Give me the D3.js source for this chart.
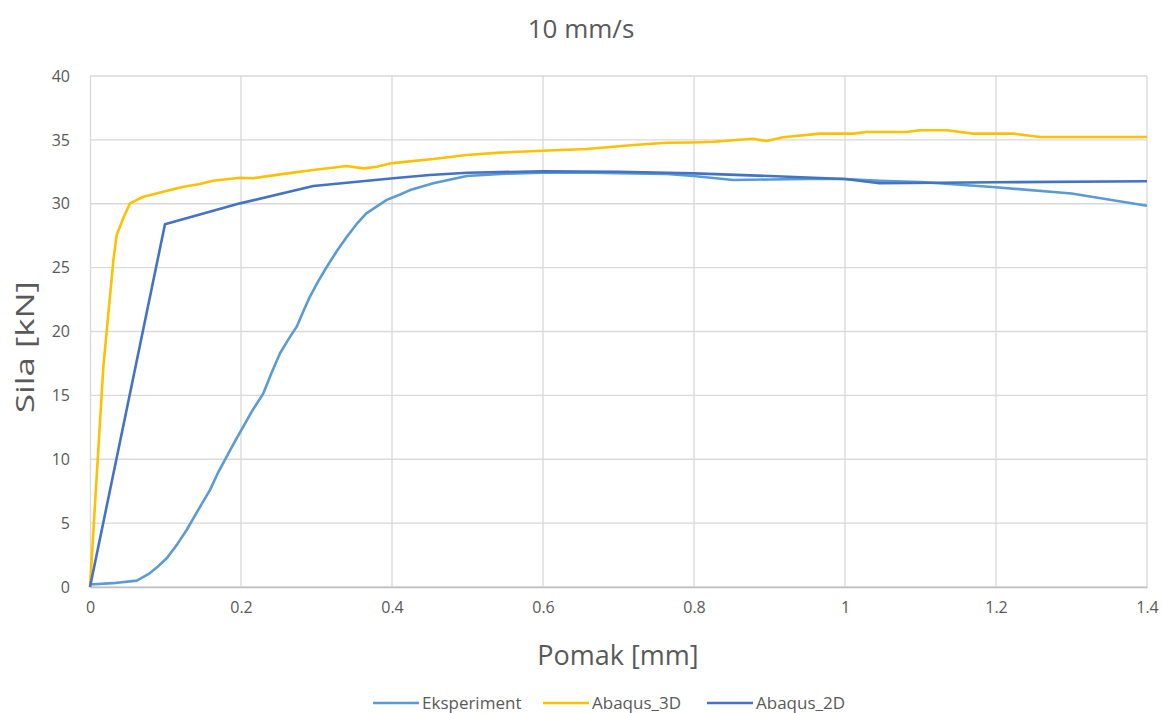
<!DOCTYPE html>
<html>
<head>
<meta charset="utf-8">
<script src="https://cdn.jsdelivr.net/npm/d3@7"></script>
<style>
  body { margin: 0; background: #fff; }
  svg text { font-family: "Open Sans", "Noto Sans", sans-serif; fill: #595959; }
</style>
</head>
<body>
<svg id="chart" width="1162" height="713"></svg>
<script>
// pomak [mm] / sila [kN]
const eksX = [0, 0.03, 0.062, 0.079, 0.09, 0.1016, 0.115, 0.128, 0.143, 0.159, 0.17, 0.181, 0.192, 0.203, 0.216, 0.2296, 0.24, 0.2517, 0.263, 0.274, 0.282, 0.291, 0.302, 0.3135, 0.327, 0.340, 0.353, 0.366, 0.38, 0.393, 0.41, 0.424, 0.4547, 0.499, 0.55, 0.599, 0.65, 0.70, 0.764, 0.799, 0.852, 0.9, 0.95, 1.0, 1.046, 1.1, 1.2, 1.3, 1.4];
const eksY = [0.2, 0.3, 0.5, 1.07, 1.6, 2.25, 3.3, 4.46, 6.0, 7.6, 9.0, 10.2, 11.4, 12.55, 13.9, 15.16, 16.7, 18.3, 19.4, 20.4, 21.5, 22.7, 23.9, 25.05, 26.3, 27.4, 28.4, 29.25, 29.8, 30.3, 30.7, 31.07, 31.6, 32.17, 32.35, 32.43, 32.45, 32.4, 32.33, 32.17, 31.86, 31.9, 31.95, 31.94, 31.8, 31.7, 31.29, 30.8, 29.85];

const a3dX = [0, 0.0177, 0.031, 0.0353, 0.045, 0.053, 0.0706, 0.097, 0.1236, 0.1457, 0.163, 0.1987, 0.2163, 0.2517, 0.2958, 0.340, 0.362, 0.38, 0.397, 0.4106, 0.4547, 0.499, 0.543, 0.599, 0.658, 0.72, 0.764, 0.799, 0.826, 0.878, 0.896, 0.918, 0.967, 1.011, 1.029, 1.081, 1.099, 1.135, 1.17, 1.223, 1.258, 1.4];
const a3dY = [0, 17.25, 25.6, 27.55, 29.0, 30.03, 30.55, 30.94, 31.33, 31.55, 31.8, 32.04, 32.0, 32.3, 32.64, 32.95, 32.77, 32.9, 33.15, 33.24, 33.5, 33.82, 34.0, 34.15, 34.29, 34.6, 34.78, 34.8, 34.85, 35.09, 34.91, 35.2, 35.49, 35.49, 35.62, 35.62, 35.75, 35.75, 35.49, 35.49, 35.23, 35.23];

const a2dX = [0, 0.0993, 0.1987, 0.2958, 0.4017, 0.45, 0.5, 0.6, 0.7, 0.764, 0.8, 0.9, 1.0, 1.046, 1.2, 1.4];
const a2dY = [0, 28.4, 30.03, 31.39, 31.99, 32.25, 32.43, 32.54, 32.5, 32.43, 32.38, 32.17, 31.94, 31.6, 31.68, 31.76];

const seriesNames = ["Eksperiment", "Abaqus_3D", "Abaqus_2D"];
const seriesColors = ["#5B9BD5", "#FFC000", "#4472C4"];
const xTicks = [0, 0.2, 0.4, 0.6, 0.8, 1, 1.2, 1.4];
const yTicks = [0, 5, 10, 15, 20, 25, 30, 35, 40];

const margin = {top: 76, right: 15, bottom: 126, left: 90};
const width = 1162 - margin.left - margin.right;
const height = 713 - margin.top - margin.bottom;

const svg = d3.select("#chart");
const chart = svg.append("g")
    .attr("transform", `translate(${margin.left},${margin.top})`);

const xScale = d3.scaleLinear().domain([0, 1.4]).range([0, width]);
const yScale = d3.scaleLinear().domain([0, 40]).range([height, 0]);

// gridlines
chart.append("g")
    .selectAll("line")
    .data(yTicks)
    .join("line")
    .attr("x1", 0).attr("x2", width)
    .attr("y1", d => yScale(d)).attr("y2", d => yScale(d))
    .attr("stroke", "#d9d9d9").attr("stroke-width", 1.3);
chart.append("g")
    .selectAll("line")
    .data(xTicks.slice(1))
    .join("line")
    .attr("x1", d => xScale(d)).attr("x2", d => xScale(d))
    .attr("y1", 0).attr("y2", height)
    .attr("stroke", "#d9d9d9").attr("stroke-width", 1.3);

// axes
const xAxisG = chart.append("g")
    .attr("transform", `translate(0,${height})`)
    .call(d3.axisBottom(xScale).tickValues(xTicks).tickSize(0).tickPadding(15).tickFormat(d3.format("")));
xAxisG.select(".domain").attr("stroke", "#bfbfbf").attr("stroke-width", 1.3);
const yAxisG = chart.append("g")
    .call(d3.axisLeft(yScale).tickValues(yTicks).tickSize(0).tickPadding(20));
yAxisG.select(".domain").attr("stroke", "#d9d9d9").attr("stroke-width", 1.3);
chart.selectAll(".tick text")
    .style("font-size", "16px")
    .style("font-family", "'Open Sans', sans-serif")
    .attr("fill", "#595959");

// lines
const series = [
  {name: seriesNames[0], xs: eksX, ys: eksY, color: seriesColors[0]},
  {name: seriesNames[1], xs: a3dX, ys: a3dY, color: seriesColors[1]},
  {name: seriesNames[2], xs: a2dX, ys: a2dY, color: seriesColors[2]}
];
const line = d3.line()
    .x(d => xScale(d[0]))
    .y(d => yScale(d[1]));
chart.selectAll(".series")
    .data(series)
    .join("path")
    .attr("class", "series")
    .attr("fill", "none")
    .attr("stroke", d => d.color)
    .attr("stroke-width", 2.6)
    .attr("stroke-linejoin", "round")
    .attr("d", d => line(d.xs.map((x, i) => [x, d.ys[i]])));

// titles
svg.append("text")
    .attr("x", 581).attr("y", 38)
    .attr("text-anchor", "middle")
    .style("font-size", "26px")
    .text("10 mm/s");
svg.append("text")
    .attr("x", 618).attr("y", 665)
    .attr("text-anchor", "middle")
    .style("font-size", "27px")
    .text("Pomak [mm]");
svg.append("text")
    .attr("transform", "translate(34,347) rotate(-90)")
    .attr("text-anchor", "middle")
    .attr("textLength", 132)
    .attr("lengthAdjust", "spacingAndGlyphs")
    .style("font-size", "25px")
    .text("Sila [kN]");

// legend
const legendX = [373, 543, 707];
const legend = svg.append("g");
series.forEach((s, i) => {
  legend.append("line")
      .attr("x1", legendX[i]).attr("x2", legendX[i] + 46)
      .attr("y1", 703).attr("y2", 703)
      .attr("stroke", s.color).attr("stroke-width", 2.6);
  legend.append("text")
      .attr("x", legendX[i] + 49).attr("y", 709)
      .style("font-size", "17px")
      .text(s.name);
});
</script>
</body>
</html>
